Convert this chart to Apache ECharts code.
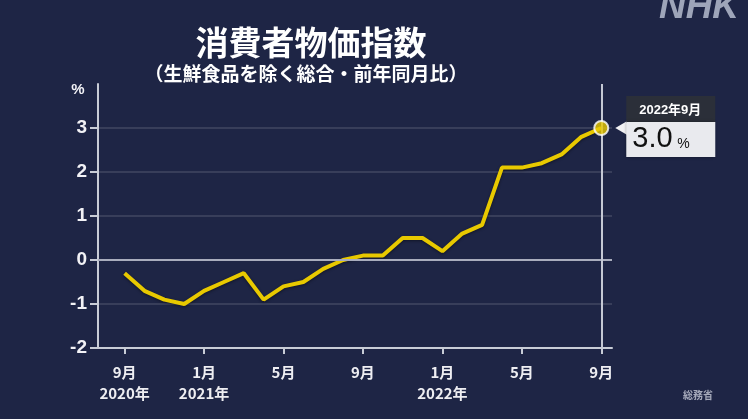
<!DOCTYPE html>
<html><head><meta charset="utf-8">
<script src="https://cdn.jsdelivr.net/npm/echarts@6/dist/echarts.min.js"></script>
<style>html,body{margin:0;padding:0;background:#1e2545;}#c{width:748px;height:419px;}</style>
</head><body><div id="c"></div>
<script>
var months = ['2020-09','2020-10','2020-11','2020-12','2021-01','2021-02','2021-03','2021-04','2021-05','2021-06','2021-07','2021-08','2021-09','2021-10','2021-11','2021-12','2022-01','2022-02','2022-03','2022-04','2022-05','2022-06','2022-07','2022-08','2022-09'];
var cpi = [-0.3,-0.7,-0.9,-1.0,-0.7,-0.5,-0.3,-0.9,-0.6,-0.5,-0.2,0.0,0.1,0.1,0.5,0.5,0.2,0.6,0.8,2.1,2.1,2.2,2.4,2.8,3.0];
var xTickIdx = [0,4,8,12,16,20,24];
var xTickLabels = ['9月\n2020年','1月\n2021年','5月','9月','1月\n2022年','5月','9月'];
var yTicks = [-2,-1,0,1,2,3];
var titleText = '消費者物価指数';
var subText = '（生鮮食品を除く総合・前年同月比）';
var calloutDate = '2022年9月';
var sourceText = '総務省';

var FONT = '"Noto Sans CJK JP", "Noto Sans", sans-serif';
var chart = echarts.init(document.getElementById('c'), null, {renderer:'canvas'});
var data = cpi.map(function(v,i){return [i,v];});
var lastIdx = cpi.length-1;

var option = {
  backgroundColor:'#1e2545',
  animation:false,
  grid:{left:98, top:84, width:514, height:264, containLabel:false},
  xAxis:{type:'value', min:-1.34, max:24.54,
    splitLine:{show:false},
    axisLine:{show:true, onZero:false, lineStyle:{color:'#c8ccd6', width:2}},
    axisTick:{show:true, length:6, customValues:xTickIdx, lineStyle:{color:'#c8ccd6', width:2}},
    axisLabel:{show:true, customValues:xTickIdx, margin:14, color:'#eeeef2', fontSize:15, fontWeight:'bold', fontFamily:FONT, lineHeight:21,
      formatter:function(v){var k=xTickIdx.indexOf(Math.round(v));return k>=0?xTickLabels[k]:'';}}
  },
  yAxis:{type:'value', min:-2, max:4, interval:1,
    axisLine:{show:true, onZero:false, lineStyle:{color:'#c8ccd6', width:2}},
    axisTick:{show:true, length:8, customValues:yTicks, lineStyle:{color:'#c8ccd6', width:2}},
    axisLabel:{customValues:yTicks, margin:11, color:'#f2f2f6', fontSize:19, fontWeight:'bold', fontFamily:'"Liberation Sans", Arial, sans-serif'},
    splitLine:{show:true, lineStyle:{color:'rgba(255,255,255,0.16)', width:1.5}}
  },
  series:[{
    type:'line', data:data, showSymbol:false, symbol:'none',
    lineStyle:{color:'#e8c900', width:4, shadowColor:'rgba(0,0,0,0.45)', shadowBlur:3, shadowOffsetY:1},
    markLine:{silent:true, symbol:'none', label:{show:false},
      data:[
        {yAxis:0, lineStyle:{color:'#a9adbd', width:2, type:'solid'}},
        {xAxis:lastIdx, lineStyle:{color:'#c4c8d4', width:2, type:'solid'}}
      ]},
    z:3
  },{
    type:'scatter', data:[data[lastIdx]], symbol:'circle', symbolSize:14,
    itemStyle:{color:'#e8c900', borderColor:'#ffffff', borderWidth:2}, z:5
  }]
};
chart.setOption(option);

var p = chart.convertToPixel({seriesIndex:0}, data[lastIdx]);
var px = p[0], py = p[1];
var graphics = [
  {type:'text', x:311, y:42, style:{text:titleText, fill:'#ffffff', font:'bold 33px '+FONT, align:'center', verticalAlign:'middle'}},
  {type:'text', x:306, y:74, style:{text:subText, fill:'#ffffff', font:'bold 19px '+FONT, align:'center', verticalAlign:'middle'}},
  {type:'text', x:78, y:90, style:{text:'%', fill:'#f2f2f6', font:'bold 15px "Liberation Sans", Arial, sans-serif', align:'center', verticalAlign:'middle'}},
  {type:'text', x:698, y:395, style:{text:sourceText, fill:'#a6aabb', font:'bold 10px '+FONT, align:'center', verticalAlign:'middle'}},
  {type:'text', x:699, y:26, style:{text:'NHK', fill:'#9ea5b9', font:'italic 900 37px "Liberation Sans", Arial, sans-serif', align:'center', verticalAlign:'bottom'}},
  // callout
  {type:'polygon', shape:{points:[[px+14,py],[px+26,py-7],[px+26,py+7]]}, style:{fill:'#f2f2f4'}, z:10},
  {type:'rect', shape:{x:px+25, y:py-32, width:89, height:27}, style:{fill:'#2b2f39'}, z:10},
  {type:'rect', shape:{x:px+25, y:py-6, width:89, height:35}, style:{fill:'#e9eaee', shadowColor:'rgba(0,0,0,0.4)', shadowBlur:3}, z:10},
  {type:'text', x:px+69, y:py-18, style:{text:calloutDate, fill:'#ffffff', font:'bold 13px "Liberation Sans", '+FONT, align:'center', verticalAlign:'middle'}, z:11},
  {type:'text', x:px+31, y:py+25, style:{text:cpi[lastIdx].toFixed(1), fill:'#111111', font:'29px "Liberation Sans", Arial, sans-serif', align:'left', verticalAlign:'bottom'}, z:11},
  {type:'text', x:px+76, y:py+23, style:{text:'%', fill:'#111111', font:'14px "Liberation Sans", Arial, sans-serif', align:'left', verticalAlign:'bottom'}, z:11}
];
chart.setOption({graphic:graphics});
</script>
</body></html>
